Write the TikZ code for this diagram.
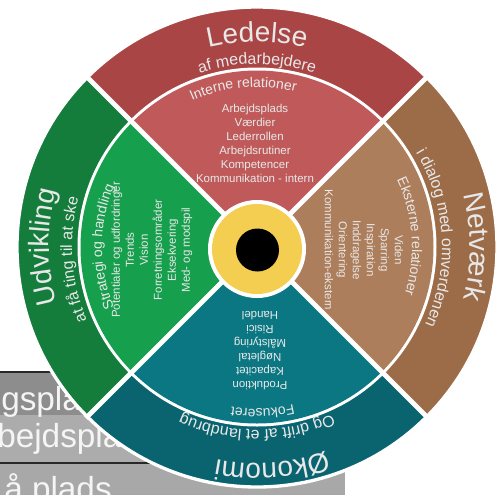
\documentclass[tikz,border=0pt]{standalone}
\usepackage{fontspec}
\setmainfont{Liberation Sans}
\usetikzlibrary{decorations.text}

\begin{document}
\begin{tikzpicture}[x=0.75pt,y=0.75pt,yscale=-1,xscale=1,
  ringtext/.style 2 args={decorate,decoration={text along path,text align=center,text={|\color{white!91!black}#1|#2}}},
  listtext/.style={text=white!91!black,align=center,inner sep=0pt,font=\fontsize{8.6}{10.5}\selectfont},
  boxtext/.style={text=white!96!black,anchor=base west,inner sep=0pt,font=\fontsize{25}{25}\selectfont}]
\useasboundingbox (0,0) rectangle (504,494);
\coordinate (hub) at (257,247);

%Shape: Rectangle [back boxes]
\fill [fill={rgb, 255:red, 141; green, 141; blue, 141 }] (-5,372) rectangle (345,415);
\fill [fill={rgb, 255:red, 172; green, 172; blue, 172 }] (-5,415) rectangle (345,463);
\fill [fill={rgb, 255:red, 168; green, 168; blue, 168 }] (-5,463) rectangle (345,500);
\draw [line width=1.1, draw={rgb, 255:red, 40; green, 40; blue, 40 }] (-5,372) -- (150,372);
\draw [line width=1.1, draw={rgb, 255:red, 40; green, 40; blue, 40 }] (-5,463) -- (150,463);
% Text Node
\node (boxA) [boxtext] at (1,410) {gsplads};
% Text Node
\node (boxB) [boxtext] at (-3,447) {bejdsplads};
% Text Node
\node (boxC) [boxtext] at (4,500) {å plads};

%Shape: Sector [outer ring]
\fill [fill={rgb, 255:red, 170; green, 69; blue, 69 }] (hub) -- ++(-45:240) arc [start angle=-45, end angle=-135, radius=240] -- cycle;
\fill [fill={rgb, 255:red, 156; green, 108; blue, 72 }] (hub) -- ++(45:240) arc [start angle=45, end angle=-45, radius=240] -- cycle;
\fill [fill={rgb, 255:red, 10; green, 100; blue, 112 }] (hub) -- ++(135:240) arc [start angle=135, end angle=45, radius=240] -- cycle;
\fill [fill={rgb, 255:red, 20; green, 125; blue, 60 }] (hub) -- ++(225:240) arc [start angle=225, end angle=135, radius=240] -- cycle;
\draw [white, line width=2.5] (hub) circle [radius=240];

%Shape: Circle [ring gap]
\fill [white] (hub) circle [radius=179.5];

%Shape: Sector [inner quadrants]
\fill [fill={rgb, 255:red, 192; green, 90; blue, 90 }] (hub) -- ++(-45:176.5) arc [start angle=-45, end angle=-135, radius=176.5] -- cycle;
\fill [fill={rgb, 255:red, 173; green, 126; blue, 91 }] (hub) -- ++(45:176.5) arc [start angle=45, end angle=-45, radius=176.5] -- cycle;
\fill [fill={rgb, 255:red, 11; green, 119; blue, 131 }] (hub) -- ++(135:176.5) arc [start angle=135, end angle=45, radius=176.5] -- cycle;
\fill [fill={rgb, 255:red, 22; green, 159; blue, 76 }] (hub) -- ++(225:176.5) arc [start angle=225, end angle=135, radius=176.5] -- cycle;

%Straight Lines [separators]
\draw [white, line width=3.6] (hub) -- ++(45:242);
\draw [white, line width=3.6] (hub) -- ++(135:242);
\draw [white, line width=3.6] (hub) -- ++(225:242);
\draw [white, line width=3.6] (hub) -- ++(315:242);

%Shape: Circle [hub]
\fill [white] (257,249) circle [radius=49];
\fill [fill={rgb, 255:red, 244; green, 206; blue, 80 }] (257,249) circle [radius=45];
\fill [black] (257.5,250) circle [radius=21.5];

% Curved Text [Ledelse]
\path [ringtext={\fontsize{21}{21}\selectfont}{Ledelse}] ([shift={(-135:205)}]hub) arc [start angle=-135, end angle=-45, radius=205];
\path [ringtext={\fontsize{12}{12}\selectfont}{af medarbejdere}] ([shift={(-135:183)}]hub) arc [start angle=-135, end angle=-45, radius=183];
\path [ringtext={\fontsize{10.5}{10.5}\selectfont}{Interne relationer}] ([shift={(-140:160)}]hub) arc [start angle=-140, end angle=-50, radius=160];
% Curved Text [Netvaerk]
\path [ringtext={\fontsize{21}{21}\selectfont}{Netværk}] ([shift={(-45:213)}]hub) arc [start angle=-45, end angle=45, radius=213];
\path [ringtext={\fontsize{12}{12}\selectfont}{i dialog med omverdenen}] ([shift={(-48:185)}]hub) arc [start angle=-48, end angle=42, radius=185];
\path [ringtext={\fontsize{10.5}{10.5}\selectfont}{Eksterne relationer}] ([shift={(-49:155)}]hub) arc [start angle=-49, end angle=41, radius=155];
% Curved Text [Oekonomi]
\path [ringtext={\fontsize{21}{21}\selectfont}{Økonomi}] ([shift={(41:216)}]hub) arc [start angle=41, end angle=131, radius=216];
\path [ringtext={\fontsize{12}{12}\selectfont}{Og drift af et landbrug}] ([shift={(45:183)}]hub) arc [start angle=45, end angle=135, radius=183];
\path [ringtext={\fontsize{10.5}{10.5}\selectfont}{Fokuseret}] ([shift={(43:162)}]hub) arc [start angle=43, end angle=133, radius=162];
% Curved Text [Udvikling]
\path [ringtext={\fontsize{21}{21}\selectfont}{Udvikling}] ([shift={(135:208)}]hub) arc [start angle=135, end angle=225, radius=208];
\path [ringtext={\fontsize{12}{12}\selectfont}{at få ting til at ske}] ([shift={(131:185)}]hub) arc [start angle=131, end angle=221, radius=185];
\path [ringtext={\fontsize{10.5}{10.5}\selectfont}{Strategi og handling}] ([shift={(135:155)}]hub) arc [start angle=135, end angle=225, radius=155];

% Text Node
\node (ledList) [listtext] at (255,143) {Arbejdsplads\\Værdier\\Lederrollen\\Arbejdsrutiner\\Kompetencer\\Kommunikation - intern};
% Text Node
\node (netList) [listtext, rotate=-90] at (364,250) {Viden\\Sparring\\Inspiration\\Inddragelse\\Orientering\\Kommunikation-ekstern};
% Text Node
\node (oekList) [listtext, rotate=180] at (260,351) {Produktion\\Kapacitet\\Nøgletal\\Målstyring\\Risici\\Handel};
% Text Node
\node (udvList) [listtext, rotate=90] at (152,250) {Potentialer og udfordringer\\Trends\\Vision\\Forretningsområder\\Eksekvering\\Med- og modspil};

\end{tikzpicture}
\end{document}
